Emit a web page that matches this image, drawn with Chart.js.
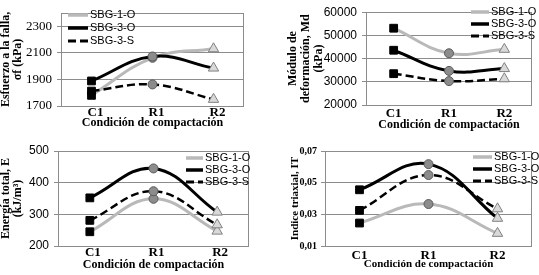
<!DOCTYPE html>
<html>
<head>
<meta charset="utf-8">
<script src="https://cdn.jsdelivr.net/npm/chart.js@4.4.0/dist/chart.umd.min.js"></script>
<style>
  body { margin: 0; background: #fff; }
  canvas { position: absolute; }
</style>
</head>
<body>
<canvas id="c1" width="270" height="137" style="left:0;top:0"></canvas>
<canvas id="c2" width="269" height="137" style="left:270px;top:0"></canvas>
<canvas id="c3" width="270" height="138" style="left:0;top:137px"></canvas>
<canvas id="c4" width="269" height="138" style="left:270px;top:137px"></canvas>
<script>
const categories = ['C1', 'R1', 'R2'];
const seriesNames = ['SBG-1-O', 'SBG-3-O', 'SBG-3-S'];

// Esfuerzo a la falla (kPa)
const esfuerzo1O = [1780, 2062, 2130];
const esfuerzo3O = [1888, 2072, 1985];
const esfuerzo3S = [1812, 1862, 1750];
const esfuerzoTicks = [1700, 1900, 2100, 2300];

// Modulo de deformacion (kPa)
const modulo1O = [53100, 42300, 44000];
const modulo3O = [43600, 34700, 35700];
const modulo3S = [33500, 30300, 31300];
const moduloTicks = [20000, 30000, 40000, 50000, 60000];

// Energia total (kJ/m3)
const energia1O = [245, 349, 247];
const energia3O = [352, 445, 307];
const energia3S = [281, 373, 267];
const energiaTicks = [200, 300, 400, 500];

// Indice triaxial
const indice1O = [0.0245, 0.0365, 0.018];
const indice3O = [0.0455, 0.0617, 0.0275];
const indice3S = [0.0325, 0.0548, 0.0335];
const indiceTicks = [0.01, 0.03, 0.05, 0.07];

const SERIF = '"Liberation Serif", "Times New Roman", serif';
const SANS = '"Liberation Sans", Arial, sans-serif';

const lineStyles = [
  { borderColor: '#b9b9b9', borderWidth: 3, borderDash: [] },
  { borderColor: '#000000', borderWidth: 3, borderDash: [] },
  { borderColor: '#000000', borderWidth: 2.5, borderDash: [8, 4] }
];

// plot box + legend drawn inside the plot area
const boxLegend = {
  id: 'boxLegend',
  beforeDatasetsDraw(chart) {
    const a = chart.chartArea, ctx = chart.ctx;
    ctx.save();
    ctx.strokeStyle = '#8c8c8c';
    ctx.lineWidth = 1;
    ctx.strokeRect(Math.round(a.left) + 0.5, Math.round(a.top) + 0.5,
      Math.round(a.right - a.left) - 1, Math.round(a.bottom - a.top));
    ctx.restore();
  },
  afterDatasetsDraw(chart, args, opts) {
    const ctx = chart.ctx;
    ctx.save();
    ctx.font = '11px ' + SANS;
    ctx.textBaseline = 'middle';
    chart.data.datasets.forEach((ds, i) => {
      const y = opts.y + i * opts.step;
      ctx.beginPath();
      ctx.strokeStyle = ds.borderColor;
      ctx.lineWidth = ds.borderWidth + 0.5;
      ctx.setLineDash(ds.borderDash || []);
      ctx.moveTo(opts.x, y);
      ctx.lineTo(opts.x + opts.len, y);
      ctx.stroke();
      ctx.setLineDash([]);
      ctx.fillStyle = '#000';
      ctx.fillText(ds.label, opts.x + opts.len + 2, y);
    });
    ctx.restore();
  }
};

function makePanel(id, p) {
  const datasets = p.series.map((vals, i) => ({
    label: seriesNames[i],
    data: vals,
    ...lineStyles[i],
    tension: 0.4,
    order: 3 - i,
    pointStyle: ['rect', 'circle', 'triangle'],
    pointRadius: [5.5, 4.5, 6],
    pointBackgroundColor: ['#000000', '#8c8c8c', '#d9d9d9'],
    pointBorderColor: ['#000000', '#5a5a5a', '#808080'],
    pointBorderWidth: 1,
    clip: false
  }));
  new Chart(document.getElementById(id), {
    type: 'line',
    data: { labels: categories, datasets },
    options: {
      responsive: false,
      animation: false,
      devicePixelRatio: 1,
      layout: { padding: p.padding },
      plugins: {
        legend: { display: false },
        tooltip: { enabled: false },
        boxLegend: p.legend
      },
      scales: {
        x: {
          offset: true,
          grid: { display: false, drawTicks: false },
          border: { display: false },
          ticks: { font: { family: SERIF, size: 13, weight: 'bold' }, color: '#000',
            padding: p.xPad, labelOffset: p.labelOffset || 0 },
          title: { display: true, text: 'Condición de compactación', color: '#000',
            font: { family: SERIF, size: p.xTitleSize, weight: 'bold', lineHeight: 1 }, padding: 0 },
          afterFit: s => { s.height = p.xHeight; }
        },
        y: {
          min: p.min, max: p.max,
          afterBuildTicks: s => { s.ticks = p.ticks.map(v => ({ value: v })); },
          grid: { color: '#8c8c8c', tickLength: 4 },
          border: { display: false },
          ticks: { font: p.tickFont, color: '#000', padding: p.yPad || 5,
            callback: p.fmt || (v => v) },
          title: { display: true, text: p.yTitle, color: '#000',
            font: { family: SERIF, size: p.yTitleSize, weight: 'bold', lineHeight: p.yLine }, padding: 0 },
          afterFit: s => { s.width = p.yWidth; }
        }
      }
    },
    plugins: [boxLegend]
  });
}

makePanel('c1', {
  series: [esfuerzo1O, esfuerzo3O, esfuerzo3S],
  min: 1700, max: 2400, ticks: esfuerzoTicks,
  yTitle: ['Esfuerzo a la falla,', 'σf (kPa)'], yTitleSize: 12, yLine: 1,
  tickFont: { family: SERIF, size: 13 },
  padding: { left: 0, top: 8, right: 26, bottom: 8 },
  yWidth: 61, xHeight: 23, xTitleSize: 12, labelOffset: 4, xPad: -1,
  legend: { x: 68, y: 15, step: 13, len: 20 }
});

makePanel('c2', {
  series: [modulo1O, modulo3O, modulo3S],
  min: 20000, max: 60000, ticks: moduloTicks,
  yTitle: ['Módulo de', 'deformación, Md', '(kPa)'], yTitleSize: 12, yLine: 1.05,
  tickFont: { family: SANS, size: 12 },
  padding: { left: 17, top: 6, right: 7, bottom: 6 },
  yWidth: 79, xHeight: 26, xTitleSize: 12, xPad: 1,
  legend: { x: 201, y: 12, step: 12, len: 18 }
});

makePanel('c3', {
  series: [energia1O, energia3O, energia3S],
  min: 200, max: 500, ticks: energiaTicks,
  yTitle: ['Energía total, E', '(kJ/m³)'], yTitleSize: 12, yLine: 1,
  tickFont: { family: SANS, size: 12 },
  padding: { left: 0, top: 14, right: 21, bottom: 4 },
  yWidth: 58, xHeight: 25, xTitleSize: 12, labelOffset: 3, xPad: -1,
  legend: { x: 186, y: 21, step: 12, len: 17 }
});

makePanel('c4', {
  series: [indice1O, indice3O, indice3S],
  min: 0.01, max: 0.07, ticks: indiceTicks,
  fmt: v => v.toFixed(2).replace('.', ','),
  yTitle: 'Indice triaxial, IT', yTitleSize: 11, yLine: 1,
  tickFont: { family: SERIF, size: 10, weight: 'bold' },
  padding: { left: 20, top: 14, right: 1, bottom: 5 },
  yWidth: 35, xHeight: 24, xTitleSize: 11, xPad: 2, yPad: 4,
  legend: { x: 203, y: 20, step: 12, len: 19 }
});
</script>
</body>
</html>
